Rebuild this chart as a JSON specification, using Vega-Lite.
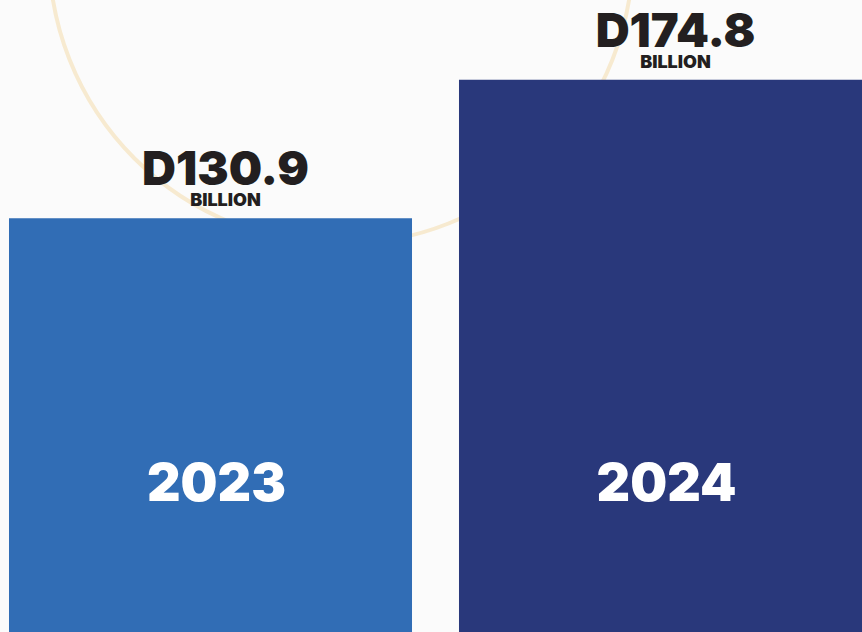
{
  "$schema": "https://vega.github.io/schema/vega-lite/v6.json",
  "width": 862,
  "height": 632,
  "autosize": {"type": "none"},
  "padding": 0,
  "background": "#fbfbfb",
  "config": {"view": {"stroke": null}, "text": {"font": "Inter"}},
  "layer": [
    {
      "data": {"values": [{}]},
      "mark": {"type": "point", "shape": "circle", "filled": false, "size": 341056, "stroke": "#f7ead0", "strokeWidth": 4, "opacity": 1, "clip": true},
      "encoding": {
        "x": {"datum": 341, "type": "quantitative", "scale": {"domain": [0, 862]}, "axis": null},
        "y": {"datum": -48, "type": "quantitative", "scale": {"domain": [632, 0]}, "axis": null}
      }
    },
    {
      "data": {
        "values": [
          {"year": "2023", "value": 130.9, "label": "D130.9"},
          {"year": "2024", "value": 174.8, "label": "D174.8"}
        ]
      },
      "encoding": {
        "x": {"field": "year", "type": "nominal", "scale": {"paddingInner": 0.1044, "paddingOuter": 0.01, "align": 1}, "axis": null},
        "y": {"field": "value", "type": "quantitative", "scale": {"domain": [0, 200]}, "axis": null}
      },
      "layer": [
        {
          "mark": {"type": "bar"},
          "encoding": {
            "color": {"field": "year", "type": "nominal", "scale": {"domain": ["2023", "2024"], "range": ["#316db5", "#29387b"]}, "legend": null}
          }
        },
        {
          "mark": {"type": "text", "fontSize": 47, "fontWeight": 900, "dy": -33, "dx": 15, "baseline": "alphabetic", "color": "#231f20"},
          "encoding": {"text": {"field": "label"}}
        },
        {
          "mark": {"type": "text", "fontSize": 18, "fontWeight": 900, "dy": -12, "dx": 15, "baseline": "alphabetic", "color": "#231f20"},
          "encoding": {"text": {"value": "BILLION"}}
        },
        {
          "mark": {"type": "text", "fontSize": 52, "fontWeight": 900, "dx": 6, "baseline": "alphabetic", "color": "white"},
          "encoding": {
            "y": {"datum": 41.5, "type": "quantitative"},
            "text": {"field": "year"}
          }
        }
      ]
    }
  ],
  "resolve": {"scale": {"x": "independent", "y": "independent"}}
}
